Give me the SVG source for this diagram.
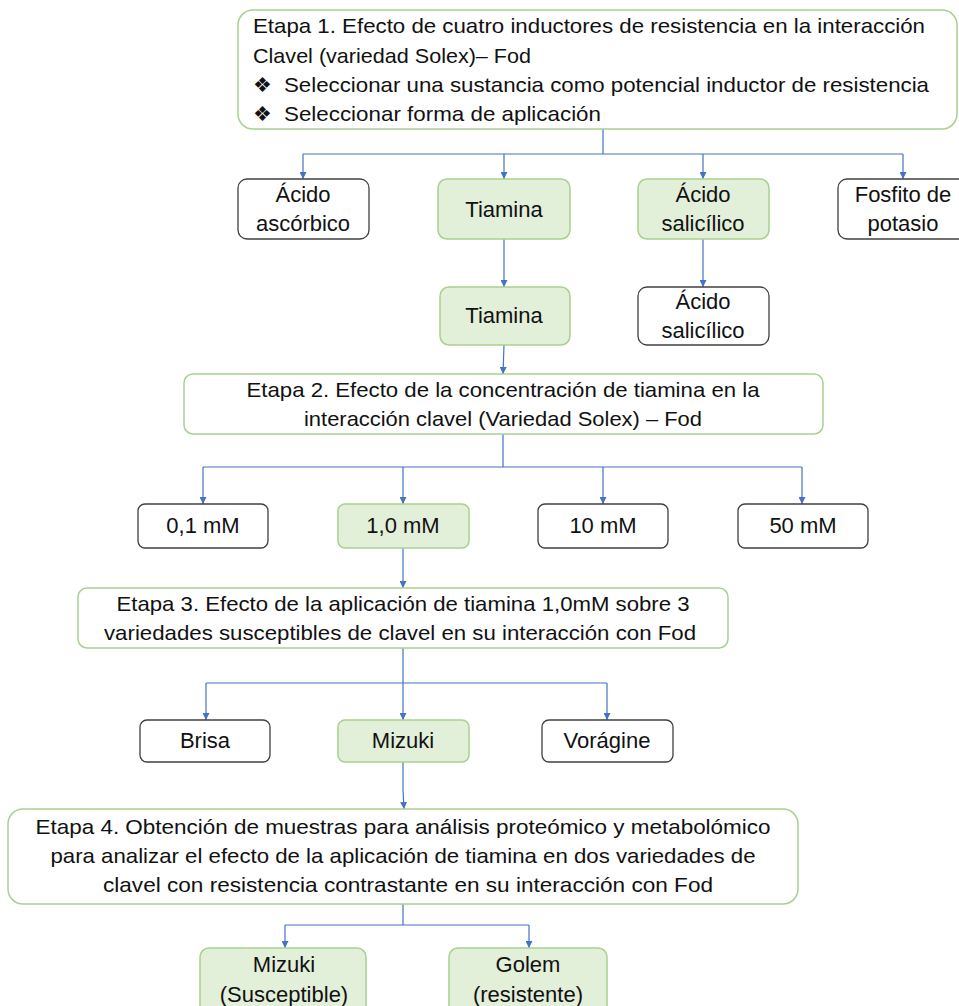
<svg xmlns="http://www.w3.org/2000/svg" width="959" height="1006" viewBox="0 0 959 1006">
<defs>
<marker id="ah" viewBox="0 0 10 10" refX="10" refY="5" markerWidth="7" markerHeight="7" markerUnits="userSpaceOnUse" orient="auto">
<path d="M0,0 L10,5 L0,10 z" fill="#4472c4"/>
</marker>
<style>
.g{fill:#e2efd9;stroke:#a9d18e;stroke-width:1.5}
.gw{fill:#ffffff;stroke:#a9d18e;stroke-width:1.5}
.w{fill:#ffffff;stroke:#404040;stroke-width:1.3}
text{font-family:"Liberation Sans",Arial,sans-serif;font-size:21px;fill:#111}
.c{text-anchor:middle}
.s{font-size:22px}
.con{fill:none;stroke:#4472c4;stroke-width:1.2}
.arr{marker-end:url(#ah)}
</style>
</defs>
<rect width="959" height="1006" fill="#ffffff"/>

<g id="connectors">
<path class="con" d="M603,129 V154 M303,154 H903"/>
<path class="con arr" d="M303,154 V179"/>
<path class="con arr" d="M504,154 V179"/>
<path class="con arr" d="M703,154 V179"/>
<path class="con arr" d="M903,154 V179"/>
<path class="con arr" d="M504,239 V287"/>
<path class="con arr" d="M703,239 V287"/>
<path class="con arr" d="M504,345 L503,374"/>
<path class="con" d="M503,434 V467 M203,467 H802"/>
<path class="con arr" d="M203,467 V504"/>
<path class="con arr" d="M403,467 V504"/>
<path class="con arr" d="M603,467 V504"/>
<path class="con arr" d="M802,467 V504"/>
<path class="con arr" d="M403,548 V588"/>
<path class="con" d="M403,648 V683 M206,683 H607"/>
<path class="con arr" d="M206,683 V720"/>
<path class="con arr" d="M403,683 V720"/>
<path class="con arr" d="M607,683 V720"/>
<path class="con arr" d="M403,762 V790 L404,809"/>
<path class="con" d="M403,904 V925 M285,925 H529"/>
<path class="con arr" d="M285,925 V948"/>
<path class="con arr" d="M529,925 V948"/>
</g>

<g id="etapa1">
<rect class="gw" x="238" y="10" width="719" height="119" rx="15"/>
<text x="253" y="33" textLength="672" lengthAdjust="spacingAndGlyphs">Etapa 1. Efecto de cuatro inductores de resistencia en la interacción</text>
<text x="253" y="63" textLength="278" lengthAdjust="spacingAndGlyphs">Clavel (variedad Solex)– Fod</text>
<text x="253" y="92" font-size="17">❖</text>
<text x="284" y="92" textLength="645" lengthAdjust="spacingAndGlyphs">Seleccionar una sustancia como potencial inductor de resistencia</text>
<text x="253" y="121" font-size="17">❖</text>
<text x="284" y="121" textLength="317" lengthAdjust="spacingAndGlyphs">Seleccionar forma de aplicación</text>
</g>

<g id="acido-ascorbico">
<rect class="w" x="238" y="179" width="131" height="60" rx="9"/>
<text class="c s" x="303" y="202">Ácido</text>
<text class="c s" x="303" y="231">ascórbico</text>
</g>
<g id="tiamina1">
<rect class="g" x="438" y="179" width="132" height="60" rx="9"/>
<text class="c s" x="504" y="217">Tiamina</text>
</g>
<g id="acido-salicilico1">
<rect class="g" x="638" y="179" width="131" height="60" rx="9"/>
<text class="c s" x="703" y="202">Ácido</text>
<text class="c s" x="703" y="231">salicílico</text>
</g>
<g id="fosfito">
<rect class="w" x="838" y="179" width="131" height="60" rx="9"/>
<text class="c s" x="903" y="202">Fosfito de</text>
<text class="c s" x="903" y="231">potasio</text>
</g>

<g id="tiamina2">
<rect class="g" x="440" y="287" width="130" height="58" rx="9"/>
<text class="c s" x="504" y="323">Tiamina</text>
</g>
<g id="acido-salicilico2">
<rect class="w" x="638" y="287" width="131" height="58" rx="9"/>
<text class="c s" x="703" y="309">Ácido</text>
<text class="c s" x="703" y="338">salicílico</text>
</g>

<g id="etapa2">
<rect class="gw" x="184" y="374" width="639" height="60" rx="9"/>
<text class="c" x="503" y="397" textLength="513" lengthAdjust="spacingAndGlyphs">Etapa 2. Efecto de la concentración de tiamina en la</text>
<text class="c" x="503" y="426" textLength="398" lengthAdjust="spacingAndGlyphs">interacción clavel (Variedad Solex) – Fod</text>
</g>

<g id="c01">
<rect class="w" x="138" y="504" width="130" height="44" rx="7"/>
<text class="c s" x="203" y="533">0,1 mM</text>
</g>
<g id="c10">
<rect class="g" x="338" y="504" width="131" height="44" rx="7"/>
<text class="c s" x="403" y="533">1,0 mM</text>
</g>
<g id="c10mm">
<rect class="w" x="538" y="504" width="130" height="44" rx="7"/>
<text class="c s" x="603" y="533">10 mM</text>
</g>
<g id="c50">
<rect class="w" x="738" y="504" width="130" height="44" rx="7"/>
<text class="c s" x="803" y="533">50 mM</text>
</g>

<g id="etapa3">
<rect class="gw" x="78" y="588" width="650" height="60" rx="9"/>
<text class="c" x="403" y="611" textLength="573" lengthAdjust="spacingAndGlyphs">Etapa 3. Efecto de la aplicación de tiamina 1,0mM sobre 3</text>
<text class="c" x="400" y="640" textLength="592" lengthAdjust="spacingAndGlyphs">variedades susceptibles de clavel en su interacción con Fod</text>
</g>

<g id="brisa">
<rect class="w" x="140" y="720" width="130" height="42" rx="7"/>
<text class="c s" x="205" y="748">Brisa</text>
</g>
<g id="mizuki1">
<rect class="g" x="338" y="720" width="131" height="42" rx="7"/>
<text class="c s" x="403" y="748">Mizuki</text>
</g>
<g id="voragine">
<rect class="w" x="542" y="720" width="131" height="42" rx="7"/>
<text class="c s" x="607" y="748">Vorágine</text>
</g>

<g id="etapa4">
<rect class="gw" x="8" y="809" width="790" height="95" rx="15"/>
<text class="c" x="403" y="834" textLength="735" lengthAdjust="spacingAndGlyphs">Etapa 4. Obtención de muestras para análisis proteómico y metabolómico</text>
<text class="c" x="403" y="863" textLength="705" lengthAdjust="spacingAndGlyphs">para analizar el efecto de la aplicación de tiamina en dos variedades de</text>
<text class="c" x="408" y="892" textLength="610" lengthAdjust="spacingAndGlyphs">clavel con resistencia contrastante en su interacción con Fod</text>
</g>

<g id="mizuki2">
<rect class="g" x="200" y="948" width="166" height="70" rx="9"/>
<text class="c s" x="284" y="972">Mizuki</text>
<text class="c s" x="284" y="1002">(Susceptible)</text>
</g>
<g id="golem">
<rect class="g" x="449" y="948" width="158" height="70" rx="9"/>
<text class="c s" x="528" y="972">Golem</text>
<text class="c s" x="528" y="1002">(resistente)</text>
</g>
</svg>
